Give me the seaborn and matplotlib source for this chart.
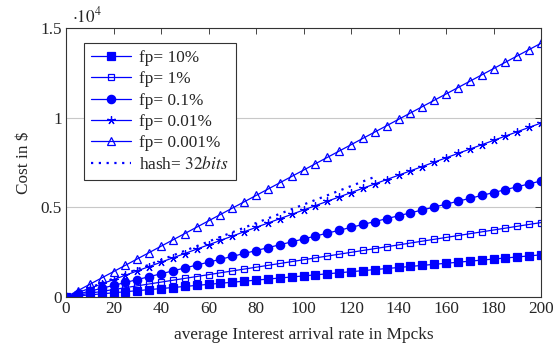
import numpy as np
import pandas as pd
import matplotlib
matplotlib.use("Agg")
import matplotlib.pyplot as plt
import seaborn as sns

# arrival rate (Mpcks), markers every 5
rate = list(range(0, 205, 5))

fp10 = [0, 59, 118, 176, 235, 294, 353, 411, 470, 529, 588, 646, 705, 764, 823, 881,
        940, 999, 1058, 1116, 1175, 1234, 1293, 1351, 1410, 1469, 1528, 1586, 1645, 1704,
        1763, 1821, 1880, 1939, 1998, 2056, 2115, 2174, 2233, 2291, 2350]
fp1 = [0, 104, 208, 311, 415, 519, 623, 726, 830, 934, 1038, 1141, 1245, 1349, 1453, 1556,
       1660, 1764, 1868, 1971, 2075, 2179, 2283, 2386, 2490, 2594, 2698, 2801, 2905, 3009,
       3113, 3216, 3320, 3424, 3528, 3631, 3735, 3839, 3943, 4046, 4150]
fp01 = [0, 162, 324, 485, 647, 809, 971, 1132, 1294, 1456, 1618, 1779, 1941, 2103, 2265,
        2426, 2588, 2750, 2912, 3073, 3235, 3397, 3559, 3720, 3882, 4044, 4206, 4367, 4529,
        4691, 4853, 5014, 5176, 5338, 5500, 5661, 5823, 5985, 6147, 6308, 6470]
fp001 = [0, 243, 485, 728, 970, 1213, 1455, 1698, 1940, 2183, 2425, 2668, 2910, 3153, 3395,
         3638, 3880, 4123, 4365, 4608, 4850, 5093, 5335, 5578, 5820, 6063, 6305, 6548, 6790,
         7033, 7275, 7518, 7760, 8003, 8245, 8488, 8730, 8973, 9215, 9458, 9700]
fp0001 = [0, 354, 708, 1061, 1415, 1769, 2123, 2476, 2830, 3184, 3538, 3891, 4245, 4599,
          4953, 5306, 5660, 6014, 6368, 6721, 7075, 7429, 7783, 8136, 8490, 8844, 9198, 9551,
          9905, 10259, 10613, 10966, 11320, 11674, 12028, 12381, 12735, 13089, 13443, 13796,
          14150]

# hash 32 bits only goes to 130
hash_rate = [0, 10, 20, 30, 40, 50, 60, 70, 80, 90, 100, 110, 120, 130]
hash32 = [0, 515, 1031, 1546, 2062, 2577, 3092, 3608, 4123, 4638, 5154, 5669, 6185, 6700]

labels = ["fp= 10%", "fp= 1%", "fp= 0.1%", "fp= 0.01%", "fp= 0.001%"]

sns.set_style("white")
plt.rcParams["font.family"] = ["Liberation Serif", "DejaVu Serif"]
plt.rcParams["mathtext.fontset"] = "stix"
FS = 12.4
plt.rcParams["font.size"] = FS

fig, ax = plt.subplots(figsize=(5.53, 3.58), dpi=100)
fig.subplots_adjust(left=0.1194, right=0.9783, top=0.9218, bottom=0.1704)

blue = "#0000ff"
series = [fp10, fp1, fp01, fp001, fp0001]
styles = [dict(marker="s", ms=5.5, mfc=blue),
          dict(marker="s", ms=5, mfc="none"),
          dict(marker="o", ms=6, mfc=blue),
          dict(marker=(5, 2, 0), ms=6, mfc=blue),
          dict(marker="^", ms=5.5, mfc="none")]

for ys, lab, st in zip(series, labels, styles):
    df = pd.DataFrame({"x": rate, "y": np.array(ys) / 1e4})
    sns.lineplot(data=df, x="x", y="y", ax=ax, color=blue, lw=0.9, mec=blue,
                 mew=0.9, label=lab, **st)

dfh = pd.DataFrame({"x": hash_rate, "y": np.array(hash32) / 1e4})
sns.lineplot(data=dfh, x="x", y="y", ax=ax, color=blue, lw=1.6, ls=(0, (1, 2.5)),
             label="hash= $32bits$")

ax.set_xlim(0, 200)
ax.set_ylim(0, 1.5)
ax.set_xticks(range(0, 201, 20))
ax.set_yticks([0, 0.5, 1, 1.5])
ax.set_yticklabels(["0", "0.5", "1", "1.5"])
ax.yaxis.grid(True, color="#c8c8c8", lw=0.8)
ax.set_axisbelow(True)
ax.tick_params(direction="in", top=True, right=True, length=4, width=0.6,
               labelsize=FS, pad=3)
for sp in ax.spines.values():
    sp.set_color("#333333")
    sp.set_linewidth(0.8)

ax.set_xlabel("average Interest arrival rate in Mpcks", fontsize=FS, labelpad=7)
ax.set_ylabel("Cost in \\$", fontsize=FS, labelpad=6)
ax.text(0.012, 1.022, r"$\cdot 10^4$", transform=ax.transAxes, fontsize=FS,
        ha="left", va="baseline")

leg = ax.legend(loc="upper left", bbox_to_anchor=(0.02, 0.975), fancybox=False,
                edgecolor="#333333", framealpha=1, handlelength=2.3, fontsize=FS,
                borderpad=0.4, labelspacing=0.3, handletextpad=0.5)
leg.get_frame().set_linewidth(0.8)

fig.savefig("out.png", dpi=100)
